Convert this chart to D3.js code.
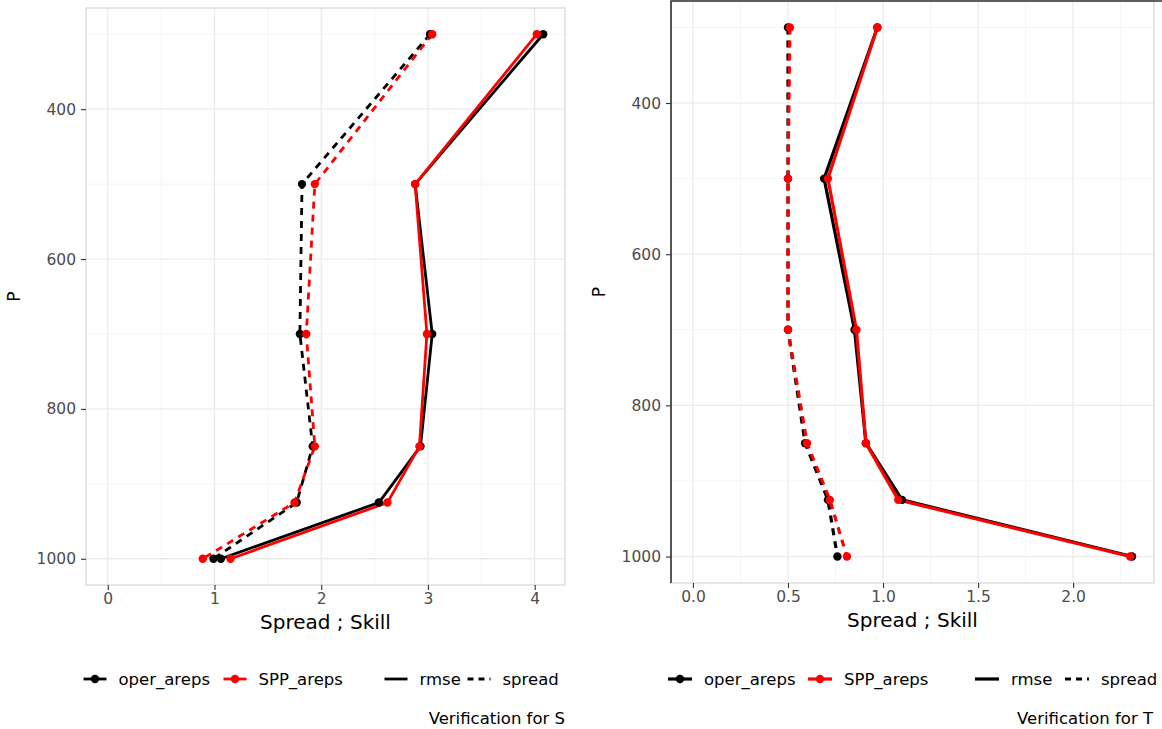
<!DOCTYPE html>
<html>
<head>
<meta charset="utf-8">
<script src="https://cdn.jsdelivr.net/npm/d3@7"></script>
<style>
  html, body { margin: 0; padding: 0; background: #fff; }
  svg { display: block; font-family: "DejaVu Sans", sans-serif; }
</style>
</head>
<body>
<svg id="chart" width="1162" height="729"></svg>
<script>
// Pressure levels (hPa)
const levels = [300, 500, 700, 850, 925, 1000];

// Verification for S
const operRmseS   = [4.08, 2.88, 3.04, 2.93, 2.54, 1.06];
const sppRmseS    = [4.02, 2.88, 2.99, 2.92, 2.62, 1.15];
const operSpreadS = [3.02, 1.82, 1.80, 1.92, 1.77, 0.99];
const sppSpreadS  = [3.04, 1.94, 1.86, 1.94, 1.75, 0.89];

// Verification for T
const operRmseT   = [0.97, 0.69, 0.85, 0.91, 1.10, 2.31];
const sppRmseT    = [0.97, 0.71, 0.86, 0.91, 1.08, 2.30];
const operSpreadT = [0.50, 0.50, 0.50, 0.59, 0.71, 0.76];
const sppSpreadT  = [0.51, 0.50, 0.50, 0.60, 0.72, 0.81];

const experiments = ["oper_areps", "SPP_areps"];
const scores = ["rmse", "spread"];
const expColors = { oper_areps: "#000000", SPP_areps: "#ff0000" };
const dashes = { rmse: null, spread: "7,6" };

const yTicks = [400, 600, 800, 1000];
const yMinor = [300, 500, 700, 900];
const xTicksS = [0, 1, 2, 3, 4];
const xMinorS = [0.5, 1.5, 2.5, 3.5];
const xTicksT = [0, 0.5, 1.0, 1.5, 2.0];
const xMinorT = [0.25, 0.75, 1.25, 1.75, 2.25];

const svg = d3.select("#chart");

// 5% padding on each side of the data range
function expanded(lo, hi) {
  const pad = (hi - lo) * 0.05;
  return [lo - pad, hi + pad];
}

function drawPanel(opts) {
  const { left, right, top, bottom, series, xTicks, xMinor, xFormat, caption, darkFrame, legend, lw } = opts;
  const allX = series.flatMap(s => s.values).concat([0]);
  const x = d3.scaleLinear().domain(expanded(d3.min(allX), d3.max(allX))).range([left, right]);
  const y = d3.scaleLinear().domain(expanded(d3.min(levels), d3.max(levels))).range([top, bottom]);

  const g = svg.append("g");

  // grid
  const grid = g.append("g");
  grid.selectAll(".vminor").data(xMinor.filter(v => x(v) < right)).join("line")
    .attr("x1", d => x(d)).attr("x2", d => x(d)).attr("y1", top).attr("y2", bottom)
    .attr("stroke", "#f2f2f2").attr("stroke-width", 0.8);
  grid.selectAll(".hminor").data(yMinor).join("line")
    .attr("x1", left).attr("x2", right).attr("y1", d => y(d)).attr("y2", d => y(d))
    .attr("stroke", "#f2f2f2").attr("stroke-width", 0.8);
  grid.selectAll(".vmajor").data(xTicks).join("line")
    .attr("x1", d => x(d)).attr("x2", d => x(d)).attr("y1", top).attr("y2", bottom)
    .attr("stroke", "#ebebeb").attr("stroke-width", 1.3);
  grid.selectAll(".hmajor").data(yTicks).join("line")
    .attr("x1", left).attr("x2", right).attr("y1", d => y(d)).attr("y2", d => y(d))
    .attr("stroke", "#ebebeb").attr("stroke-width", 1.3);

  // frame
  g.append("rect").attr("x", left).attr("y", top).attr("width", right - left).attr("height", bottom - top)
    .attr("fill", "none").attr("stroke", "#d6d6d6").attr("stroke-width", 1.2);
  if (darkFrame) {
    g.append("path").attr("d", `M${left},${bottom}V${top}H${right + 10}`)
      .attr("fill", "none").attr("stroke", "#333").attr("stroke-width", 1.6);
  }

  // axes
  const xAxis = g.append("g").attr("transform", `translate(0,${bottom})`)
    .call(d3.axisBottom(x).tickValues(xTicks).tickFormat(xFormat).tickSize(5).tickPadding(3));
  const yAxis = g.append("g").attr("transform", `translate(${left},0)`)
    .call(d3.axisLeft(y).tickValues(yTicks).tickFormat(d3.format("d")).tickSize(5).tickPadding(5));
  [xAxis, yAxis].forEach(a => {
    a.select(".domain").remove();
    a.selectAll(".tick line").attr("stroke", "#333").attr("stroke-width", 1.1);
    a.selectAll(".tick text").attr("fill", "#4d4d4d").style("font-size", "15.5px")
      .style("font-family", "DejaVu Sans");
  });

  // axis titles
  g.append("text").attr("x", (left + right) / 2).attr("y", bottom + 44)
    .attr("text-anchor", "middle").style("font-size", "20px").attr("fill", "#000").text("Spread ; Skill");
  g.append("text").attr("transform", `translate(${left - 66},${(top + bottom) / 2}) rotate(-90)`)
    .attr("text-anchor", "middle").style("font-size", "17px").attr("fill", "#000").text("P");

  // series lines, then points on top
  const line = d3.line().x(d => x(d[0])).y(d => y(d[1]));
  series.forEach(s => {
    const pts = s.values.map((v, i) => [v, levels[i]]);
    g.append("path").datum(pts).attr("d", line)
      .attr("fill", "none").attr("stroke", expColors[s.exp]).attr("stroke-width", lw)
      .attr("stroke-dasharray", dashes[s.score]).attr("stroke-linejoin", "round");
  });
  series.forEach(s => {
    const pts = s.values.map((v, i) => [v, levels[i]]);
    g.append("g").selectAll("circle").data(pts).join("circle")
      .attr("cx", d => x(d[0])).attr("cy", d => y(d[1])).attr("r", 4.2)
      .attr("fill", expColors[s.exp]);
  });

  // legend
  const ly = legend.y;
  const lg = g.append("g").style("font-size", "16.5px");
  experiments.forEach((e, i) => {
    const kx = legend.expX[i];
    lg.append("line").attr("x1", kx - legend.keyW / 2).attr("x2", kx + legend.keyW / 2)
      .attr("y1", ly).attr("y2", ly).attr("stroke", expColors[e]).attr("stroke-width", lw);
    lg.append("circle").attr("cx", kx).attr("cy", ly).attr("r", 4.2).attr("fill", expColors[e]);
    lg.append("text").attr("x", kx + legend.keyW / 2 + 12).attr("y", ly).attr("dy", "0.35em")
      .attr("fill", "#000").text(e);
  });
  scores.forEach((sc, i) => {
    const kx = legend.scoreX[i];
    lg.append("line").attr("x1", kx - legend.keyW / 2).attr("x2", kx + legend.keyW / 2)
      .attr("y1", ly).attr("y2", ly).attr("stroke", "#000").attr("stroke-width", lw)
      .attr("stroke-dasharray", sc === "spread" ? "6,5" : null);
    lg.append("text").attr("x", kx + legend.keyW / 2 + 12).attr("y", ly).attr("dy", "0.35em")
      .attr("fill", "#000").text(sc);
  });

  g.append("text").attr("x", legend.captionX).attr("y", 724).attr("text-anchor", "end")
    .style("font-size", "16.5px").attr("fill", "#000").text(caption);
}

drawPanel({
  left: 86, right: 565, top: 8, bottom: 585,
  series: [
    { exp: "oper_areps", score: "spread", values: operSpreadS },
    { exp: "oper_areps", score: "rmse", values: operRmseS },
    { exp: "SPP_areps", score: "spread", values: sppSpreadS },
    { exp: "SPP_areps", score: "rmse", values: sppRmseS }
  ],
  xTicks: xTicksS, xMinor: xMinorS, xFormat: d3.format("d"),
  caption: "Verification for S", darkFrame: false, lw: 2.8,
  legend: { y: 679, expX: [95, 235], scoreX: [396, 479], keyW: 23, captionX: 565 }
});

drawPanel({
  left: 671, right: 1154, top: 1, bottom: 583,
  series: [
    { exp: "oper_areps", score: "spread", values: operSpreadT },
    { exp: "oper_areps", score: "rmse", values: operRmseT },
    { exp: "SPP_areps", score: "spread", values: sppSpreadT },
    { exp: "SPP_areps", score: "rmse", values: sppRmseT }
  ],
  xTicks: xTicksT, xMinor: xMinorT, xFormat: d3.format(".1f"),
  caption: "Verification for T", darkFrame: true, lw: 3.2,
  legend: { y: 679, expX: [680, 820], scoreX: [987, 1077], keyW: 24, captionX: 1153 }
});
</script>
</body>
</html>
